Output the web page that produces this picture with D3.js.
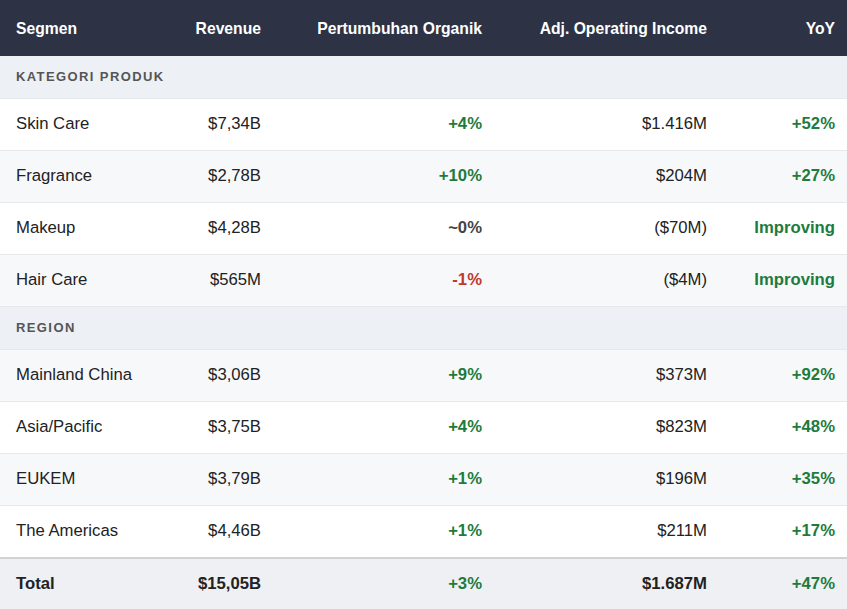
<!DOCTYPE html>
<html>
<head>
<meta charset="utf-8">
<script src="https://cdn.jsdelivr.net/npm/d3@7"></script>
<style>
  html, body { margin: 0; padding: 0; background: #fff; }
  body { font-family: "Liberation Sans", Arial, sans-serif; width: 847px; overflow: hidden; }
  table { border-collapse: collapse; table-layout: fixed; width: 847px; }
  th, td { padding: 0 16px; white-space: nowrap; }
  th { background: #2d3345; color: #fff; font-size: 15.7px; font-weight: bold; height: 54px; padding-top: 2px; }
  td { font-size: 16.7px; color: #222; height: 49px; padding-bottom: 2px; border-bottom: 1px solid #e6e8ec; }
  th.last, td.last { padding-right: 12px; }
  tr.group td { background: #edf0f4; color: #555; font-size: 13px; font-weight: bold; letter-spacing: 1.4px; height: 41px; padding-bottom: 1px; }
  tr.stripe td { background: #f7f8fa; }
  tr.total td { background: #eef0f4; font-weight: bold; height: 49px; padding-bottom: 1px; border-top: 2px solid #d2d2d2; border-bottom: none; }
  .pos { color: #1e7b3c; font-weight: bold; }
  .neg { color: #c0392b; font-weight: bold; }
  .flat { color: #444; font-weight: bold; }
</style>
</head>
<body>
<div id="table"></div>
<script>
// column headers
var columns = ["Segmen", "Revenue", "Pertumbuhan Organik", "Adj. Operating Income", "YoY"];
var colWidths = [173, 104, 221, 225, 124];

// groups
var groups = ["KATEGORI PRODUK", "REGION"];

// segment rows
var segments = ["Skin Care", "Fragrance", "Makeup", "Hair Care", "Mainland China", "Asia/Pacific", "EUKEM", "The Americas"];
var segmentGroup = [0, 0, 0, 0, 1, 1, 1, 1];
var revenue = ["$7,34B", "$2,78B", "$4,28B", "$565M", "$3,06B", "$3,75B", "$3,79B", "$4,46B"];
var organic = ["+4%", "+10%", "~0%", "-1%", "+9%", "+4%", "+1%", "+1%"];
var opIncome = ["$1.416M", "$204M", "($70M)", "($4M)", "$373M", "$823M", "$196M", "$211M"];
var yoy = ["+52%", "+27%", "Improving", "Improving", "+92%", "+48%", "+35%", "+17%"];

// total row
var total = ["Total", "$15,05B", "+3%", "$1.687M", "+47%"];

function toneOf(v) {
  if (v.startsWith("+") || v === "Improving") return "pos";
  if (v.startsWith("-")) return "neg";
  if (v.startsWith("~")) return "flat";
  return "";
}

var table = d3.select("#table").append("table");
table.append("colgroup").selectAll("col")
  .data(colWidths)
  .join("col")
    .style("width", d => d + "px");

table.append("thead").append("tr")
  .selectAll("th")
  .data(columns)
  .join("th")
    .attr("class", (d, i) => i === columns.length - 1 ? "last" : null)
    .style("text-align", (d, i) => i === 0 ? "left" : "right")
    .text(d => d);

var tbody = table.append("tbody");

// build rows list: group header then its segments
var rows = [];
groups.forEach(function(g, gi) {
  rows.push({type: "group", label: g});
  var k = 0;
  segments.forEach(function(s, i) {
    if (segmentGroup[i] !== gi) return;
    rows.push({type: "data", stripe: k % 2 === 1 ? (gi === 0) : (gi === 1),
      cells: [s, revenue[i], organic[i], opIncome[i], yoy[i]]});
    k++;
  });
});
rows.push({type: "total", cells: total});

rows.forEach(function(r) {
  var tr = tbody.append("tr");
  if (r.type === "group") {
    tr.attr("class", "group")
      .append("td")
        .attr("colspan", columns.length)
        .text(r.label);
    return;
  }
  tr.attr("class", r.type === "total" ? "total" : (r.stripe ? "stripe" : null));
  tr.selectAll("td")
    .data(r.cells)
    .join("td")
      .attr("class", (d, i) => {
        var c = [];
        if (i === 2 || i === 4) c.push(toneOf(d));
        if (i === r.cells.length - 1) c.push("last");
        return c.join(" ") || null;
      })
      .style("text-align", (d, i) => i === 0 ? "left" : "right")
      .text(d => d);
});
</script>
</body>
</html>
